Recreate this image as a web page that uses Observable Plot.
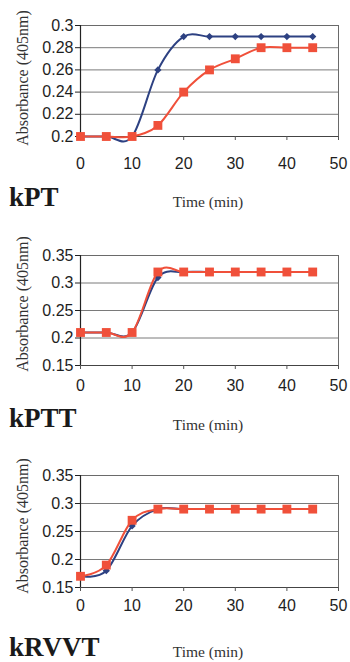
<!DOCTYPE html>
<html>
<head>
<meta charset="utf-8">
<script src="https://cdn.jsdelivr.net/npm/d3@7"></script>
<script src="https://cdn.jsdelivr.net/npm/@observablehq/plot@0.6"></script>
<style>
  body { margin: 0; background: #fff; }
  #wrap { position: relative; width: 350px; height: 662px; overflow: hidden; background: #fff; }
  .panel { position: absolute; left: 0; }
  .ylab { position: absolute; font-family: "Liberation Serif", "Times New Roman", serif; font-size: 16px; line-height: 1; white-space: nowrap; color: #333; transform: translate(-50%, -50%) rotate(-90deg); }
  .name { position: absolute; left: 9px; font-family: "Liberation Serif", "Times New Roman", serif; font-weight: bold; font-size: 27px; line-height: 1; color: #1a1a1a; }
  .xlab { position: absolute; left: 208px; font-family: "Liberation Serif", "Times New Roman", serif; font-size: 15.5px; line-height: 1; color: #333; transform: translateX(-50%); white-space: nowrap; }
</style>
</head>
<body>
<div id="wrap"></div>
<script>
// ---- data ----
const time = [0, 5, 10, 15, 20, 25, 30, 35, 40, 45];
const xTicks = [0, 10, 20, 30, 40, 50];

const kptBlue   = [0.20, 0.20, 0.20, 0.26, 0.29, 0.29, 0.29, 0.29, 0.29, 0.29];
const kptRed    = [0.20, 0.20, 0.20, 0.21, 0.24, 0.26, 0.27, 0.28, 0.28, 0.28];
const kptTicks  = [0.2, 0.22, 0.24, 0.26, 0.28, 0.3];

const kpttBlue  = [0.21, 0.21, 0.21, 0.31, 0.32, 0.32, 0.32, 0.32, 0.32, 0.32];
const kpttRed   = [0.21, 0.21, 0.21, 0.32, 0.32, 0.32, 0.32, 0.32, 0.32, 0.32];
const kpttTicks = [0.15, 0.2, 0.25, 0.3, 0.35];

const krvvtBlue = [0.17, 0.18, 0.26, 0.29, 0.29, 0.29, 0.29, 0.29, 0.29, 0.29];
const krvvtRed  = [0.17, 0.19, 0.27, 0.29, 0.29, 0.29, 0.29, 0.29, 0.29, 0.29];
const krvvtTicks = [0.15, 0.2, 0.25, 0.3, 0.35];

const panelNames = ["kPT", "kPTT", "kRVVT"];
const yLabel = "Absorbance (405nm)";
const xLabel = "Time (min)";

const BLUE = "#2d4182";
const RED = "#f0503a";

function rows(arr) { return time.map((t, i) => ({ t, v: arr[i] })); }

function makePanel(blue, red, ticks, layout) {
  const domain = [ticks[0], ticks[ticks.length - 1]];
  const b = rows(blue), r = rows(red);
  return Plot.plot({
    width: 350,
    height: 180,
    marginLeft: 80,
    marginRight: 12,
    marginTop: layout.mt,
    marginBottom: layout.mb,
    style: { fontFamily: "'Liberation Sans', Arial, sans-serif", fontSize: "16px", color: "#1e1e1e", background: "transparent", overflow: "visible" },
    x: { domain: [0, 50] },
    y: { domain },
    marks: [
      Plot.gridY(ticks, { stroke: "#7a7a7a", strokeOpacity: 1, strokeWidth: 1 }),
      Plot.frame({ stroke: "#6a6a6a", strokeWidth: 1 }),
      Plot.ruleX([0], { stroke: "#222", strokeWidth: 1.2 }),
      Plot.ruleY([domain[0]], { stroke: "#444", strokeWidth: 1 }),
      Plot.axisY(ticks, { tickSize: 5, tickPadding: 2, label: null, stroke: "#222", tickFormat: d => String(+d.toFixed(2)) }),
      Plot.axisX(xTicks, { tickSize: 4, tickPadding: layout.tp, label: null, stroke: "#555" }),
      Plot.line(b, { x: "t", y: "v", stroke: BLUE, strokeWidth: 2, curve: "cardinal" }),
      Plot.dot(b, { x: "t", y: "v", symbol: "square", rotate: 45, r: 2.9, fill: BLUE, stroke: "none" }),
      Plot.line(r, { x: "t", y: "v", stroke: RED, strokeWidth: 2, curve: "cardinal" }),
      Plot.dot(r, { x: "t", y: "v", symbol: "square", r: 5, fill: RED, stroke: "none" })
    ]
  });
}

const wrap = document.getElementById("wrap");
const panels = [
  { blue: kptBlue, red: kptRed, ticks: kptTicks, top: 0, mt: 25, mb: 44, tp: 17, ylabY: 78, nameTop: 184, xlabTop: 194 },
  { blue: kpttBlue, red: kpttRed, ticks: kpttTicks, top: 220, mt: 35, mb: 35, tp: 10, ylabY: 304, nameTop: 405, xlabTop: 417 },
  { blue: krvvtBlue, red: krvvtRed, ticks: krvvtTicks, top: 440, mt: 35, mb: 33, tp: 8, ylabY: 526, nameTop: 634, xlabTop: 644 }
];

panels.forEach((p, i) => {
  const div = document.createElement("div");
  div.className = "panel";
  div.style.top = p.top + "px";
  div.appendChild(makePanel(p.blue, p.red, p.ticks, p));
  wrap.appendChild(div);

  const yl = document.createElement("div");
  yl.className = "ylab";
  yl.style.left = "23px";
  yl.style.top = p.ylabY + "px";
  yl.textContent = yLabel;
  wrap.appendChild(yl);

  const nm = document.createElement("div");
  nm.className = "name";
  nm.style.top = p.nameTop + "px";
  nm.textContent = panelNames[i];
  wrap.appendChild(nm);

  const xl = document.createElement("div");
  xl.className = "xlab";
  xl.style.top = p.xlabTop + "px";
  xl.textContent = xLabel;
  wrap.appendChild(xl);
});
</script>
</body>
</html>
